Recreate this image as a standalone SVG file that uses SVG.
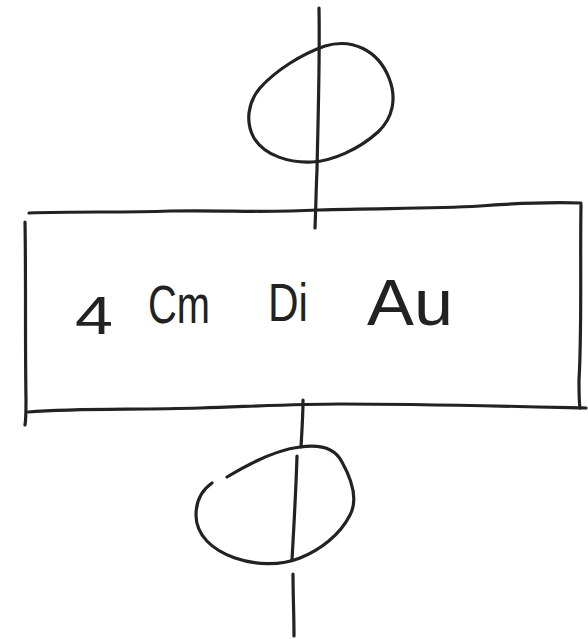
<svg xmlns="http://www.w3.org/2000/svg" width="588" height="639" viewBox="0 0 588 639">
<style>
.s{fill:none;stroke:#222;stroke-width:3.2;stroke-linecap:round;stroke-linejoin:round}
.t{font-family:"Liberation Sans",Arial,sans-serif;font-size:54px;fill:#222}
</style>
<rect width="588" height="639" fill="#fff"/>
<g id="connectors">
<path class="s" d="M319,8 C320,60 318,120 317,170 C316,190 316,205 315,228"/>
<path class="s" d="M303,400 C303,415 302,430 301,447"/>
<path class="s" d="M297,456 C296,490 294,525 292,560"/>
<path class="s" d="M293,574 C293,595 294,615 294,636"/>
</g>
<g id="circle-top">
<path class="s" d="M325,46 C352,38 378,50 389,78 C397,98 393,118 378,132 C358,150 332,161 312,162 C290,163 265,156 254,138 C245,122 248,102 260,88 C276,70 302,54 325,46 Z"/>
</g>
<g id="process">
<path class="s" d="M29,213 C80,211 120,213 170,211 C230,210 260,213 318,210 C380,208 430,209 480,206 C520,203 550,202 581,203"/>
<path class="s" d="M25,222 C26,280 25,340 26,400 C26,415 26,420 25,425"/>
<path class="s" d="M581,205 C580,260 582,330 579,380 C579,395 579,402 580,408"/>
<path class="s" d="M28,412 C80,408 130,410 200,408 C260,406 300,404 340,404 C420,404 500,406 586,408"/>
<text class="t" x="75" y="334" textLength="38" lengthAdjust="spacingAndGlyphs">4</text>
<text class="t" x="148" y="323" textLength="62" lengthAdjust="spacingAndGlyphs">Cm</text>
<text class="t" x="268" y="321" textLength="40" lengthAdjust="spacingAndGlyphs">Di</text>
<text class="t" x="367" y="325" textLength="86" lengthAdjust="spacingAndGlyphs" style="font-size:64px">Au</text>
</g>
<g id="circle-bottom">
<path class="s" d="M227,477 C250,463 275,450 300,447 C320,444 335,448 342,462 C352,480 358,500 350,515 C340,535 320,550 300,558 C280,566 255,565 235,558 C212,550 196,535 196,515 C196,500 202,490 212,483"/>
</g>
</svg>
